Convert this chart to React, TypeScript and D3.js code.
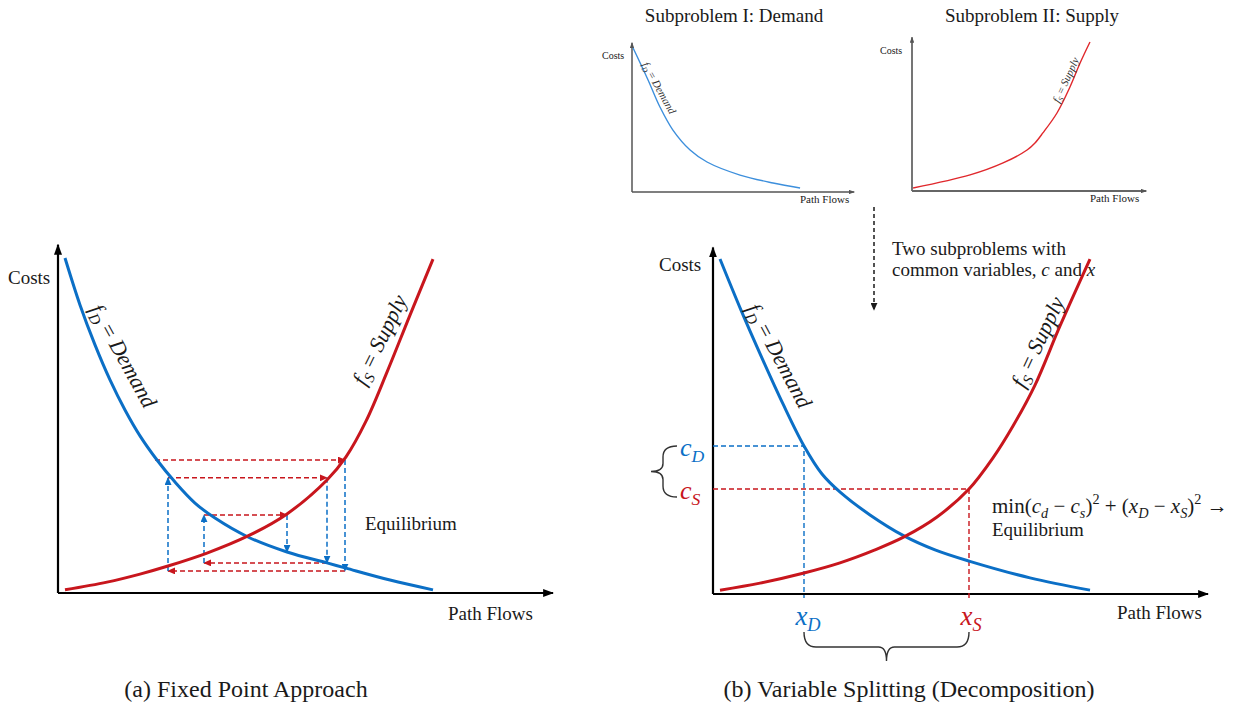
import React from "react";
import * as d3 from "d3";

const W = 1253;
const H = 710;
const BLUE = "#0b6fc6";
const RED = "#c8161d";
const INK = "#1a1a1a";
const SERIF = "'Liberation Serif', 'Times New Roman', Times, serif";

// (a) Fixed point approach — [path flow, cost], both on a 0..100 scale
const demandA: [number, number][] = [
  [1.4, 95.7], [4.4, 82.3], [7.4, 70.9], [10.4, 60.9], [13.4, 52.3], [16.4, 44.9],
  [19.8, 38], [23.4, 31.7], [27.4, 25.7], [31.4, 21.4], [38, 16], [45.8, 11.7],
  [53.8, 8.6], [57.6, 7.1], [66.4, 3.7], [75, 0.9],
];
const supplyA: [number, number][] = [
  [1.4, 0.9], [9.8, 3.1], [16.4, 5.4], [22, 7.7], [29.8, 11.4], [38, 16.3],
  [45.8, 22.6], [53.8, 32.3], [57.6, 38.9], [61.6, 49.1], [65.8, 63.1], [70.4, 79.4], [75, 95.4],
];
// cobweb iterations: horizontal (red) at cost[i] to flow[i+1], vertical (blue) to cost[i+1]
const cobwebFlows = [19.4, 57.4, 22, 53.8, 29.2, 45.8];
const cobwebCosts = [38, 6.3, 32.9, 8.6, 22.3, 11.7];

// (b) Variable splitting
const demandB: [number, number][] = [
  [1.4, 95.7], [5.6, 81.1], [9.8, 67.4], [14, 54.3], [18.2, 42.3], [21.8, 34.3],
  [25.6, 28.9], [31.4, 22.6], [38.2, 16.6], [44.4, 12.6], [51.2, 9.4], [63.4, 4.6], [75.4, 1.1],
];
const supplyB: [number, number][] = [
  [1.4, 1.1], [9.4, 3.1], [18.2, 6], [25.4, 8.9], [32.4, 12.6], [38.2, 16.3],
  [44.8, 22], [51.2, 30], [56, 38.9], [60, 48], [64.4, 59.7], [69.4, 76.6], [75.4, 95.7],
];
const splitFlows = [18.2, 51.2]; // x_D, x_S
const splitCosts = [42.3, 30]; // c_D, c_S

// subproblem thumbnails
const miniDemand: [number, number][] = [
  [0.5, 96], [7.3, 74.7], [12.7, 56.7], [18.6, 41.3], [26.4, 28], [34.1, 20],
  [49.1, 11.3], [64.1, 6], [76.4, 2.7],
];
const miniSupply: [number, number][] = [
  [0.5, 2], [26.4, 10.7], [41.4, 18.7], [52.3, 27.3], [55.9, 32], [59.5, 38.7], [65.9, 52],
  [71.8, 69.3], [76.4, 85.3], [80.9, 99.3],
];

const subTitles = ["Subproblem I: Demand", "Subproblem II: Supply"];
const captions = ["(a) Fixed Point Approach", "(b) Variable Splitting (Decomposition)"];
const axisTitles = ["Costs", "Path Flows"];

type Part = [string, string];

function MathText({ x = 0, y = 0, size, parts, fill = INK, anchor = "start" }: any) {
  let shift = 0;
  return (
    <text x={x} y={y} fontSize={size} fill={fill} textAnchor={anchor} fontFamily={SERIF}>
      {(parts as Part[]).map(([t, st], i) => {
        const sub = st.includes("sub");
        const sup = st.includes("sup");
        const target = sub ? size * 0.22 : sup ? -size * 0.42 : 0;
        const dy = target - shift;
        shift = target;
        return (
          <tspan
            key={i}
            dy={dy !== 0 ? dy : undefined}
            fontStyle={st.startsWith("i") ? "italic" : "normal"}
            fontSize={sub || sup ? size * 0.68 : size}
          >
            {t}
          </tspan>
        );
      })}
    </text>
  );
}

function Axes({ x, y, xEnd, yEnd, stroke, width, marker }: any) {
  const x0 = x(0);
  const y0 = y(0);
  return (
    <g stroke={stroke} strokeWidth={width} fill="none">
      <line x1={x0} y1={y0} x2={x0} y2={y(yEnd)} markerEnd={`url(#${marker})`} />
      <line x1={x0} y1={y0} x2={x(xEnd)} y2={y0} markerEnd={`url(#${marker})`} />
    </g>
  );
}

function Marker({ id, color, len, wid }: any) {
  return (
    <marker
      id={id}
      viewBox="0 0 10 10"
      refX={9}
      refY={5}
      markerWidth={len}
      markerHeight={wid}
      markerUnits="userSpaceOnUse"
      orient="auto"
      preserveAspectRatio="none"
    >
      <path d="M0,0 L10,5 L0,10 z" fill={color} stroke="none" />
    </marker>
  );
}

function curveLabel(x: number, y: number, angle: number, size: number, parts: Part[], fill = INK) {
  return (
    <g transform={`translate(${x},${y}) rotate(${angle})`}>
      <MathText y={size * 0.32} size={size} parts={parts} fill={fill} anchor="middle" />
    </g>
  );
}

const demandParts: Part[] = [["f", "i"], ["D", "isub"], [" = ", ""], ["Demand", "i"]];
const supplyParts: Part[] = [["f", "i"], ["S", "isub"], [" = ", ""], ["Supply", "i"]];

export default function App() {
  // scales for each panel
  const xA = d3.scaleLinear().domain([0, 100]).range([58, 558]);
  const yA = d3.scaleLinear().domain([0, 100]).range([593, 243]);
  const xB = d3.scaleLinear().domain([0, 100]).range([713, 1213]);
  const yB = d3.scaleLinear().domain([0, 100]).range([594, 244]);
  const xM1 = d3.scaleLinear().domain([0, 100]).range([632, 852]);
  const yM1 = d3.scaleLinear().domain([0, 100]).range([192, 42]);
  const xM2 = d3.scaleLinear().domain([0, 100]).range([912, 1132]);
  const yM2 = d3.scaleLinear().domain([0, 100]).range([191, 41]);

  const lineFor = (x: any, y: any) =>
    d3
      .line<[number, number]>()
      .x((d) => x(d[0]))
      .y((d) => y(d[1]))
      .curve(d3.curveCatmullRom.alpha(0.5));

  const lA = lineFor(xA, yA);
  const lB = lineFor(xB, yB);

  // cobweb segments
  const hSegs = [];
  const vSegs = [];
  for (let i = 0; i < cobwebFlows.length - 1; i++) {
    hSegs.push([cobwebFlows[i], cobwebCosts[i], cobwebFlows[i + 1], cobwebCosts[i]]);
    vSegs.push([cobwebFlows[i + 1], cobwebCosts[i], cobwebFlows[i + 1], cobwebCosts[i + 1]]);
  }

  const [xD, xS] = splitFlows;
  const [cD, cS] = splitCosts;
  const pxD = xB(xD);
  const pxS = xB(xS);
  const pcD = yB(cD);
  const pcS = yB(cS);
  const axisY = yB(0);
  const tipX = (pxD + pxS) / 2;

  const bottomBrace = `M${pxD},${axisY + 38} Q${pxD},${axisY + 53} ${pxD + 12},${axisY + 53} L${tipX - 8},${axisY + 53} Q${tipX},${axisY + 53} ${tipX},${axisY + 67} Q${tipX},${axisY + 53} ${tipX + 8},${axisY + 53} L${pxS - 12},${axisY + 53} Q${pxS},${axisY + 53} ${pxS},${axisY + 38}`;
  const bx = xB(0) - 50;
  const bTop = pcD;
  const bBot = pcS + 8;
  const bMid = (bTop + bBot) / 2;
  const leftBrace = `M${bx + 14},${bTop} Q${bx},${bTop} ${bx},${bTop + 11} L${bx},${bMid - 8} Q${bx},${bMid} ${bx - 12},${bMid} Q${bx},${bMid} ${bx},${bMid + 8} L${bx},${bBot - 11} Q${bx},${bBot} ${bx + 14},${bBot}`;

  const dash = "5,3";

  return (
    <svg
      width={W}
      height={H}
      viewBox={`0 0 ${W} ${H}`}
      style={{ position: "absolute", left: 0, top: 0, background: "#fff" }}
      fontFamily={SERIF}
    >
      <defs>
        <Marker id="axis" color="#000" len={11} wid={8} />
        <Marker id="axisMini" color="#555" len={6} wid={4.5} />
        <Marker id="arrRed" color={RED} len={8} wid={7} />
        <Marker id="arrBlue" color={BLUE} len={8} wid={7} />
        <Marker id="arrInk" color={INK} len={8} wid={7} />
      </defs>
      <rect width={W} height={H} fill="#fff" />

      {/* ---------- subproblem thumbnails ---------- */}
      <text x={734} y={22} fontSize={19} textAnchor="middle" fill={INK}>{subTitles[0]}</text>
      <text x={1032} y={22} fontSize={19} textAnchor="middle" fill={INK}>{subTitles[1]}</text>

      <Axes x={xM1} y={yM1} xEnd={101} yEnd={99.5} stroke="#555" width={1.5} marker="axisMini" />
      <text x={602} y={59} fontSize={10} fill={INK}>{axisTitles[0]}</text>
      <text x={800} y={203} fontSize={11} fill={INK}>{axisTitles[1]}</text>
      <path d={lineFor(xM1, yM1)(miniDemand) as string} fill="none" stroke="#3d8fdc" strokeWidth={1.4} />
      {curveLabel(659, 88, 61, 11, demandParts, "#333")}

      <Axes x={xM2} y={yM2} xEnd={106.5} yEnd={102.5} stroke="#666" width={1.8} marker="axisMini" />
      <text x={880} y={54} fontSize={10} fill={INK}>{axisTitles[0]}</text>
      <text x={1090} y={202} fontSize={11} fill={INK}>{axisTitles[1]}</text>
      <path d={lineFor(xM2, yM2)(miniSupply) as string} fill="none" stroke="#e0282c" strokeWidth={1.4} />
      {curveLabel(1066, 80, -65, 11, supplyParts, "#333")}

      {/* dashed link down to (b) */}
      <line x1={874} y1={207} x2={874} y2={310} stroke={INK} strokeWidth={1.5} strokeDasharray="4,3" markerEnd="url(#arrInk)" />
      <text x={892} y={255} fontSize={19} fill={INK}>Two subproblems with</text>
      <text x={892} y={276} fontSize={19} fill={INK}>
        common variables, <tspan fontStyle="italic">c</tspan> and <tspan fontStyle="italic">x</tspan>
      </text>

      {/* ---------- (a) fixed point approach ---------- */}
      <Axes x={xA} y={yA} xEnd={99} yEnd={99.5} stroke="#000" width={2.2} marker="axis" />
      <text x={8} y={284} fontSize={19} fill={INK}>{axisTitles[0]}</text>
      <text x={448} y={620} fontSize={19} fill={INK}>{axisTitles[1]}</text>

      {hSegs.map((s, i) => (
        <line key={`h${i}`} x1={xA(s[0])} y1={yA(s[1])} x2={xA(s[2])} y2={yA(s[3])}
          stroke={RED} strokeWidth={1.5} strokeDasharray={dash} markerEnd="url(#arrRed)" />
      ))}
      {vSegs.map((s, i) => (
        <line key={`v${i}`} x1={xA(s[0])} y1={yA(s[1])} x2={xA(s[2])} y2={yA(s[3])}
          stroke={BLUE} strokeWidth={1.5} strokeDasharray={dash} markerEnd="url(#arrBlue)" />
      ))}

      <path d={lA(demandA) as string} fill="none" stroke={BLUE} strokeWidth={3} />
      <path d={lA(supplyA) as string} fill="none" stroke={RED} strokeWidth={3} />
      {curveLabel(123, 356, 61, 22, demandParts)}
      {curveLabel(380, 340, -64, 22, supplyParts)}
      <text x={365} y={530} fontSize={19} fill={INK}>Equilibrium</text>

      <text x={246} y={697} fontSize={24} textAnchor="middle" fill={INK}>{captions[0]}</text>

      {/* ---------- (b) variable splitting ---------- */}
      <Axes x={xB} y={yB} xEnd={99} yEnd={99} stroke="#000" width={2.2} marker="axis" />
      <text x={659} y={271} fontSize={19} fill={INK}>{axisTitles[0]}</text>
      <text x={1117} y={619} fontSize={19} fill={INK}>{axisTitles[1]}</text>

      <g strokeWidth={1.4} strokeDasharray={dash} fill="none">
        <polyline points={`${xB(0)},${pcD} ${pxD},${pcD} ${pxD},${axisY + 4}`} stroke={BLUE} />
        <polyline points={`${xB(0)},${pcS} ${pxS},${pcS} ${pxS},${axisY + 4}`} stroke={RED} />
      </g>

      <path d={lB(demandB) as string} fill="none" stroke={BLUE} strokeWidth={3} />
      <path d={lB(supplyB) as string} fill="none" stroke={RED} strokeWidth={3} />
      {curveLabel(779, 356, 62, 22, demandParts)}
      {curveLabel(1038, 342, -65, 22, supplyParts)}

      <MathText x={680} y={456} size={26} parts={[["c", "i"], ["D", "isub"]]} fill={BLUE} />
      <MathText x={680} y={499} size={26} parts={[["c", "i"], ["S", "isub"]]} fill={RED} />
      <path d={leftBrace} fill="none" stroke="#333" strokeWidth={1.4} />

      <MathText x={pxD + 4} y={625} size={27} anchor="middle" parts={[["x", "i"], ["D", "isub"]]} fill={BLUE} />
      <MathText x={pxS + 2} y={625} size={27} anchor="middle" parts={[["x", "i"], ["S", "isub"]]} fill={RED} />
      <path d={bottomBrace} fill="none" stroke="#333" strokeWidth={1.4} />

      <MathText
        x={992}
        y={513}
        size={21}
        parts={[
          ["min(", ""], ["c", "i"], ["d", "isub"], [" − ", ""], ["c", "i"], ["s", "isub"], [")", ""], ["2", "sup"],
          [" + (", ""], ["x", "i"], ["D", "isub"], [" − ", ""], ["x", "i"], ["S", "isub"], [")", ""], ["2", "sup"], [" →", ""],
        ]}
      />
      <text x={992} y={536} fontSize={19} fill={INK}>Equilibrium</text>

      <text x={909} y={697} fontSize={24} textAnchor="middle" fill={INK}>{captions[1]}</text>
    </svg>
  );
}
